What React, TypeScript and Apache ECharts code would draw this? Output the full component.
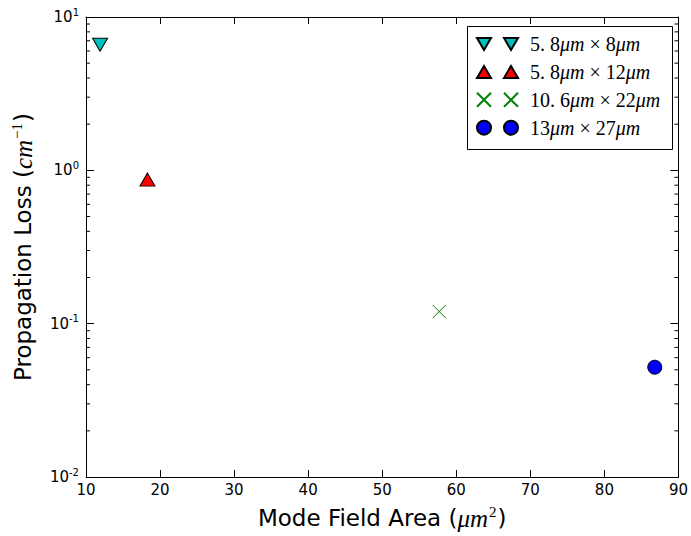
import React, { useEffect, useRef } from "react";
import * as echarts from "echarts";

// Waveguide cross-sections (width × height, in μm)
const guideWidths = ["5.8", "5.8", "10.6", "13"];
const guideHeights = ["8", "12", "22", "27"];
const seriesNames = ["5.8μm × 8μm", "5.8μm × 12μm", "10.6μm × 22μm", "13μm × 27μm"];

// Mode field area (μm²) and propagation loss (cm⁻¹)
const modeFieldArea = [11.9, 18.3, 57.7, 86.8];
const propagationLoss = [6.6, 0.87, 0.12, 0.052];

const markerColors = ["#00BFBF", "#FF0000", "#008000", "#0000FF"];

// Axis ranges
const xMin = 10;
const xMax = 90;
const xStep = 10;
const yMin = 0.01;
const yMax = 10;

// Minor ticks on the log axis: 2..9 in each decade
const minorTickValues: number[] = [];
[0.01, 0.1, 1].forEach((d) => {
  [2, 3, 4, 5, 6, 7, 8, 9].forEach((m) => minorTickValues.push(+(d * m).toPrecision(3)));
});

const triDown = "path://M0,0L14,0L7,12Z";
const triUp = "path://M7,0L14,12L0,12Z";
const cross = "path://M0,0L12,12M12,0L0,12";
const legendIcons = [
  "path://M0,0L14,0L7,12ZM27,0L41,0L34,12Z",
  "path://M7,0L14,12L0,12ZM34,0L41,12L27,12Z",
  "path://M0,0L14,14M14,0L0,14M27,0L41,14M41,0L27,14",
  "path://M0,7A7,7,0,1,1,14,7A7,7,0,1,1,0,7ZM27,7A7,7,0,1,1,41,7A7,7,0,1,1,27,7Z",
];
const symbols = [triDown, triUp, cross, "circle"];
const symbolSizes: (number | number[])[] = [[15, 13], [15, 13], [13, 13], 14];

const mathNum = (s: string) => s.replace(".", ". ");

export default function App() {
  const ref = useRef<HTMLDivElement>(null);

  useEffect(() => {
    document.body.style.margin = "0";
    const chart = echarts.init(ref.current!, null, { renderer: "svg" });

    const scatterSeries = seriesNames.map((name, i) => ({
      name,
      type: "scatter",
      xAxisIndex: 0,
      yAxisIndex: 0,
      data: [[modeFieldArea[i], propagationLoss[i]]],
      symbol: symbols[i],
      symbolSize: symbolSizes[i],
      itemStyle: {
        color: markerColors[i],
        borderColor: i === 2 ? markerColors[i] : "#000",
        borderWidth: 1,
        opacity: 1,
      },
      emphasis: { disabled: true },
      z: 5,
    }));

    const tickLine = { lineStyle: { color: "#000", width: 1 } };
    const mathRich = {
      i: { fontSize: 25, fontStyle: "italic", fontFamily: "Liberation Serif", color: "#000" },
      p: { fontSize: 23, fontFamily: "DejaVu Sans", color: "#000" },
      sup: { fontSize: 15, fontFamily: "Liberation Serif", color: "#000", padding: [0, 1, 13, 1] },
    };

    chart.setOption({
      animation: false,
      backgroundColor: "#fff",
      grid: { left: 86, top: 17, right: 5, bottom: 59, containLabel: false },
      // legend frame
      graphic: [
        {
          type: "rect",
          z: 9,
          silent: true,
          shape: { x: 467.5, y: 26.5, width: 205, height: 123 },
          style: { fill: "#fff", stroke: "#000", lineWidth: 1 },
        },
      ],
      xAxis: [
        {
          type: "value",
          min: xMin,
          max: xMax,
          interval: xStep,
          position: "bottom",
          splitLine: { show: false },
          axisLine: { show: true, onZero: false, lineStyle: { color: "#000", width: 1 } },
          axisTick: { inside: true, length: 7, ...tickLine },
          axisLabel: { color: "#000", fontSize: 15, margin: 5, fontFamily: "DejaVu Sans" },
          name: "Mode Field Area {p|(}{i|μm}{sup|2}{p|)}",
          nameLocation: "middle",
          nameGap: 27,
          nameTextStyle: {
            color: "#000",
            fontSize: 23,
            fontFamily: "DejaVu Sans",
            rich: mathRich,
          },
        },
        {
          type: "value",
          min: xMin,
          max: xMax,
          interval: xStep,
          position: "top",
          splitLine: { show: false },
          axisLine: { show: true, onZero: false, lineStyle: { color: "#000", width: 1 } },
          axisTick: { inside: true, length: 7, ...tickLine },
          axisLabel: { show: false },
        },
      ],
      yAxis: [
        {
          type: "log",
          logBase: 10,
          min: yMin,
          max: yMax,
          position: "left",
          splitLine: { show: false },
          axisLine: { show: true, onZero: false, lineStyle: { color: "#000", width: 1 } },
          axisTick: { inside: true, length: 8, ...tickLine },
          axisLabel: {
            color: "#000",
            fontSize: 15,
            margin: 7,
            fontFamily: "DejaVu Sans",
            formatter: (v: number) => `10{sup|${Math.round(Math.log10(v))}}`,
            rich: {
              sup: { fontSize: 10, fontFamily: "DejaVu Sans", color: "#000", padding: [0, 0, 10, 0] },
            },
          },
          name: "Propagation Loss {p|(}{i|cm}{sup|−1}{p|)}",
          nameLocation: "middle",
          nameGap: 49,
          nameTextStyle: {
            color: "#000",
            fontSize: 23,
            fontFamily: "DejaVu Sans",
            rich: mathRich,
          },
        },
        {
          type: "log",
          logBase: 10,
          min: yMin,
          max: yMax,
          position: "right",
          splitLine: { show: false },
          axisLine: { show: true, onZero: false, lineStyle: { color: "#000", width: 1 } },
          axisTick: { inside: true, length: 8, ...tickLine },
          axisLabel: { show: false },
        },
      ],
      legend: {
        left: 476,
        top: 34,
        orient: "vertical",
        data: seriesNames.map((name, i) => ({ name, icon: legendIcons[i] })),
        itemWidth: 41,
        itemHeight: 14,
        itemGap: 7.9,
        padding: 0,
        selectedMode: false,
        formatter: (name: string) => {
          const i = seriesNames.indexOf(name);
          return `{n|${mathNum(guideWidths[i])}}{i|μm}{n| × ${guideHeights[i]}}{i|μm}`;
        },
        textStyle: {
          padding: [0, 0, 0, 7],
          lineHeight: 18,
          rich: {
            n: { fontSize: 20, lineHeight: 18, fontFamily: "Liberation Serif", color: "#000" },
            i: { fontSize: 20, lineHeight: 18, fontFamily: "Liberation Serif", fontStyle: "italic", color: "#000" },
          },
        },
        z: 10,
      },
      series: [
        ...scatterSeries,
        {
          type: "custom",
          xAxisIndex: 0,
          yAxisIndex: 0,
          silent: true,
          clip: false,
          data: minorTickValues.map((v) => [xMin, v]),
          renderItem: (params: any, api: any) => {
            const cs = params.coordSys;
            const pt = api.coord([xMin, api.value(1)]);
            const y = pt[1];
            const len = 4;
            const style = { stroke: "#000", lineWidth: 1 };
            return {
              type: "group",
              children: [
                { type: "line", shape: { x1: cs.x, y1: y, x2: cs.x + len, y2: y }, style },
                { type: "line", shape: { x1: cs.x + cs.width - len, y1: y, x2: cs.x + cs.width, y2: y }, style },
              ],
            };
          },
          z: 3,
        },
      ],
    });

    return () => chart.dispose();
  }, []);

  return (
    <div
      ref={ref}
      style={{ position: "fixed", left: 0, top: 0, width: 691, height: 536 }}
    />
  );
}
